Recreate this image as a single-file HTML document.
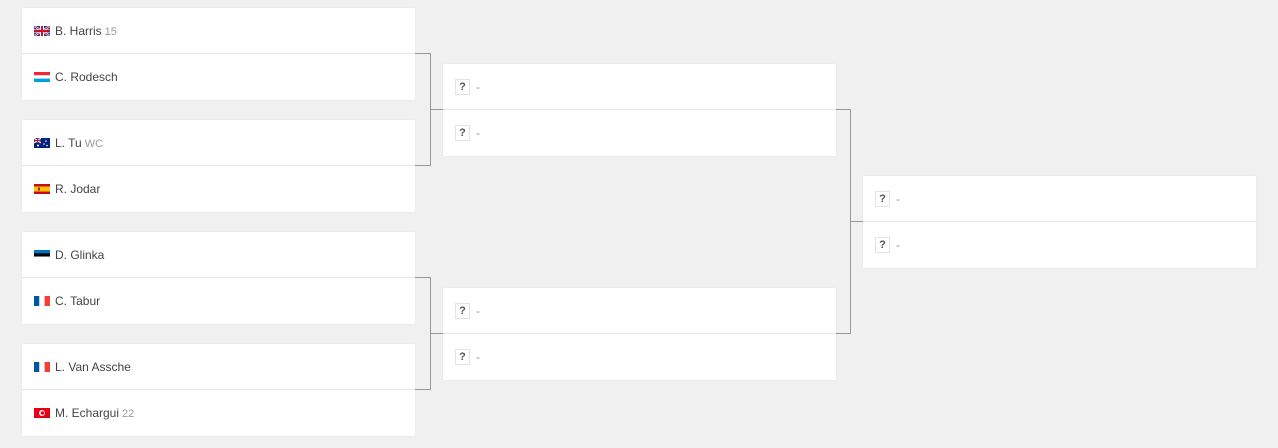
<!DOCTYPE html>
<html><head><meta charset="utf-8"><style>
html,body{margin:0;padding:0;}
body{width:1278px;height:448px;background:#f0f0f0;position:relative;overflow:hidden;font-family:"Liberation Sans","DejaVu Sans",sans-serif;font-size:12px;color:#444;}
.box{position:absolute;background:#fff;width:393px;height:92px;box-shadow:0 0 1px rgba(0,0,0,0.08);}
.box .sep{position:absolute;left:0;right:0;top:45px;height:1px;background:#e6e6e6;}
.row{position:absolute;left:0;right:0;height:46px;line-height:46px;}
.r1{top:0}.r2{top:46px}
.flag{position:absolute;left:12px;top:18px;width:16px;height:10px;}
.name{position:absolute;left:33px;top:0;}
.seed{color:#999;font-size:11px;margin-left:3px;}
.q{position:absolute;left:12px;top:15px;width:13px;height:14px;border:1px solid #e3e3e3;line-height:14px;text-align:center;font-weight:bold;color:#555;font-size:11px;}
.d{position:absolute;left:33px;top:0;color:#999;}
.ln{position:absolute;background:#999;}
</style></head><body>

<!-- Round 1 -->
<div class="box" style="left:22px;top:8px"><div class="sep"></div>
 <div class="row r1"><svg class="flag" viewBox="0 0 16 10"><rect width="16" height="10" fill="#22408c"/><path d="M0 0L16 10M16 0L0 10" stroke="#fff" stroke-width="2"/><path d="M0 0L16 10M16 0L0 10" stroke="#c8102e" stroke-width="0.8"/><rect x="6" width="4" height="10" fill="#fff"/><rect y="3.5" width="16" height="3" fill="#fff"/><rect x="7" width="2" height="10" fill="#c8102e"/><rect y="4" width="16" height="2" fill="#c8102e"/></svg><span class="name">B. Harris<span class="seed">15</span></span></div>
 <div class="row r2"><svg class="flag" viewBox="0 0 16 10"><rect width="16" height="3.4" fill="#ed2939"/><rect y="3.3" width="16" height="3.4" fill="#fff"/><rect y="6.6" width="16" height="3.4" fill="#00a1de"/></svg><span class="name">C. Rodesch</span></div>
</div>
<div class="box" style="left:22px;top:120px"><div class="sep"></div>
 <div class="row r1"><svg class="flag" viewBox="0 0 16 10"><rect width="16" height="10" fill="#00247d"/><rect width="7" height="5" fill="#3a4f9a"/><path d="M0 0L7 5M7 0L0 5" stroke="#fff" stroke-width="1"/><path d="M3.5 0V5M0 2.5H7" stroke="#c8102e" stroke-width="1"/><circle cx="12" cy="3" r=".8" fill="#fff"/><circle cx="10" cy="6" r=".8" fill="#fff"/><circle cx="13" cy="7.5" r=".8" fill="#fff"/><circle cx="4" cy="7.5" r="1" fill="#fff"/></svg><span class="name">L. Tu<span class="seed">WC</span></span></div>
 <div class="row r2"><svg class="flag" viewBox="0 0 16 10"><rect width="16" height="10" fill="#c60b1e"/><rect y="2.5" width="16" height="5" fill="#ffc400"/><rect x="4" y="3.5" width="2" height="3" fill="#ad1519"/></svg><span class="name">R. Jodar</span></div>
</div>
<div class="box" style="left:22px;top:232px"><div class="sep"></div>
 <div class="row r1"><svg class="flag" viewBox="0 0 16 10"><rect width="16" height="3.4" fill="#0072ce"/><rect y="3.3" width="16" height="3.4" fill="#000"/><rect y="6.6" width="16" height="3.4" fill="#fff"/></svg><span class="name">D. Glinka</span></div>
 <div class="row r2"><svg class="flag" viewBox="0 0 16 10"><rect width="5.4" height="10" fill="#0055a4"/><rect x="5.3" width="5.4" height="10" fill="#fff"/><rect x="10.6" width="5.4" height="10" fill="#ef4135"/></svg><span class="name">C. Tabur</span></div>
</div>
<div class="box" style="left:22px;top:344px"><div class="sep"></div>
 <div class="row r1"><svg class="flag" viewBox="0 0 16 10"><rect width="5.4" height="10" fill="#0055a4"/><rect x="5.3" width="5.4" height="10" fill="#fff"/><rect x="10.6" width="5.4" height="10" fill="#ef4135"/></svg><span class="name">L. Van Assche</span></div>
 <div class="row r2"><svg class="flag" viewBox="0 0 16 10"><rect width="16" height="10" fill="#e70013"/><circle cx="8" cy="5" r="3" fill="#fff"/><circle cx="8.5" cy="5" r="1.8" fill="#e70013"/></svg><span class="name">M. Echargui<span class="seed">22</span></span></div>
</div>

<!-- Round 2 -->
<div class="box" style="left:443px;top:64px"><div class="sep"></div>
 <div class="row r1"><span class="q">?</span><span class="d">-</span></div>
 <div class="row r2"><span class="q">?</span><span class="d">-</span></div>
</div>
<div class="box" style="left:443px;top:288px"><div class="sep"></div>
 <div class="row r1"><span class="q">?</span><span class="d">-</span></div>
 <div class="row r2"><span class="q">?</span><span class="d">-</span></div>
</div>

<!-- Round 3 -->
<div class="box" style="left:863px;top:176px"><div class="sep"></div>
 <div class="row r1"><span class="q">?</span><span class="d">-</span></div>
 <div class="row r2"><span class="q">?</span><span class="d">-</span></div>
</div>

<!-- connectors -->
<div class="ln" style="left:415px;top:53px;width:15px;height:1px"></div>
<div class="ln" style="left:415px;top:165px;width:15px;height:1px"></div>
<div class="ln" style="left:430px;top:53px;width:1px;height:113px"></div>
<div class="ln" style="left:430px;top:109px;width:13px;height:1px"></div>

<div class="ln" style="left:415px;top:277px;width:15px;height:1px"></div>
<div class="ln" style="left:415px;top:389px;width:15px;height:1px"></div>
<div class="ln" style="left:430px;top:277px;width:1px;height:113px"></div>
<div class="ln" style="left:430px;top:333px;width:13px;height:1px"></div>

<div class="ln" style="left:836px;top:109px;width:14px;height:1px"></div>
<div class="ln" style="left:836px;top:333px;width:14px;height:1px"></div>
<div class="ln" style="left:850px;top:109px;width:1px;height:225px"></div>
<div class="ln" style="left:850px;top:221px;width:13px;height:1px"></div>
</body></html>
